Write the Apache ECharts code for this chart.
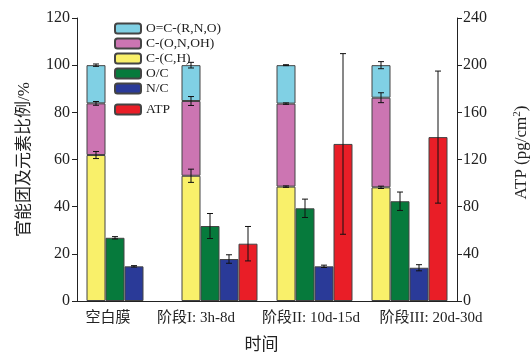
<!DOCTYPE html>
<html><head><meta charset="utf-8">
<script src="https://cdn.jsdelivr.net/npm/echarts@6/dist/echarts.min.js"></script>
<style>html,body{margin:0;padding:0;background:#fff}#c{width:530px;height:354px}</style>
</head><body><div id="c"></div>
<script>
const categories = ['空白膜', '阶段I: 3h-8d', '阶段II: 10d-15d', '阶段III: 20d-30d'];
// stacked functional-group segments (%)
const cch = [61.9, 53.1, 48.5, 48.2];
const cchErr = [1.5, 2.8, 0.3, 0.5];
const conoh = [21.9, 31.7, 35.2, 38.0];
const conohErr = [0.8, 1.9, 0.3, 2.1];
const ocrno = [16.2, 15.2, 16.3, 13.8];
const ocrnoErr = [0.5, 1.2, 0.2, 1.5];
// element ratios (%)
const oc = [26.8, 31.8, 39.3, 42.3];
const ocErr = [0.5, 5.3, 3.9, 3.9];
const nc = [14.7, 17.8, 14.7, 14.1];
const ncErr = [0.3, 1.8, 0.5, 1.3];
// ATP (pg/cm2)
const atp = [null, 48.6, 133.2, 139.0];
const atpErr = [null, 14.6, 76.6, 56.0];
const leftTicks = [0, 20, 40, 60, 80, 100, 120];
const rightTicks = [0, 40, 80, 120, 160, 200, 240];

const font = "'Liberation Serif','Noto Sans CJK SC',serif";
const txt = '#222';
const border = {borderColor: '#444', borderWidth: 1};

const errLeft = [];
const errRight = [];
categories.forEach((c, i) => {
  const t1 = cch[i], t2 = t1 + conoh[i], t3 = t2 + ocrno[i];
  errLeft.push([i, t1, cchErr[i], 0]);
  errLeft.push([i, t2, conohErr[i], 0]);
  errLeft.push([i, t3, ocrnoErr[i], 0]);
  errLeft.push([i, oc[i], ocErr[i], 1]);
  errLeft.push([i, nc[i], ncErr[i], 2]);
  if (atp[i] != null) errRight.push([i, atp[i], atpErr[i], 3]);
});

function renderErr(params, api) {
  const x = api.value(0), y = api.value(1), e = api.value(2), slot = api.value(3);
  const band = api.size([1, 0])[0];
  const bw = band * 0.8 / 4;
  const c = api.coord([x, y]);
  const cx = c[0] + (slot - 1.5) * bw;
  const hi = api.coord([x, y + e])[1];
  const lo = api.coord([x, y - e])[1];
  const cap = 3;
  const st = {stroke: '#111', lineWidth: 1};
  return {type: 'group', children: [
    {type: 'line', shape: {x1: cx, y1: hi, x2: cx, y2: lo}, style: st},
    {type: 'line', shape: {x1: cx - cap, y1: hi, x2: cx + cap, y2: hi}, style: st},
    {type: 'line', shape: {x1: cx - cap, y1: lo, x2: cx + cap, y2: lo}, style: st}
  ]};
}

const labelShift = [{padding: [0, 33, 0, 0]}, {padding: [0, 47, 0, 0]}, {padding: [0, 7, 0, 0]}, {padding: [0, 0, 0, 43]}];

const chart = echarts.init(document.getElementById('c'), null, {renderer: 'canvas'});
chart.setOption({
  backgroundColor: '#fff',
  animation: false,
  textStyle: {fontFamily: font, color: txt},
  grid: {left: 77, right: 73, top: 18, bottom: 53, containLabel: false, outerBoundsMode: 'none'},
  legend: [{
    data: ['O=C-(R,N,O)', 'C-(O,N,OH)', 'C-(C,H)', 'O/C', 'N/C'],
    orient: 'vertical', left: 109, top: 16, itemWidth: 26, itemHeight: 10, itemGap: 0,
    textStyle: {fontFamily: font, fontSize: 13.5, color: txt, lineHeight: 15}
  }, {
    data: ['ATP'], orient: 'vertical', left: 109, top: 97, itemWidth: 26, itemHeight: 10,
    textStyle: {fontFamily: font, fontSize: 13.5, color: txt, lineHeight: 15}
  }],
  xAxis: {
    type: 'category',
    data: categories.map((c, i) => ({value: c, textStyle: labelShift[i]})),
    name: '时间', nameLocation: 'middle', nameGap: 36,
    nameTextStyle: {fontFamily: font, fontSize: 17, color: txt, padding: [0, 11, 0, 0]},
    axisLine: {lineStyle: {color: '#222', width: 1}},
    axisTick: {show: false},
    axisLabel: {fontFamily: font, fontSize: 15, color: txt, margin: 10, interval: 0}
  },
  yAxis: [{
    type: 'value', min: leftTicks[0], max: leftTicks[leftTicks.length - 1], interval: 20,
    name: '官能团及元素比例/%', nameLocation: 'middle', nameGap: 44,
    nameTextStyle: {fontFamily: font, fontSize: 17, color: txt},
    axisLine: {show: true, lineStyle: {color: '#222', width: 1}},
    axisTick: {show: true, length: 5, lineStyle: {color: '#222'}},
    axisLabel: {fontFamily: font, fontSize: 16, color: txt, margin: 7},
    splitLine: {show: false}
  }, {
    type: 'value', min: rightTicks[0], max: rightTicks[rightTicks.length - 1], interval: 40,
    position: 'right',
    name: '{a|ATP (pg/cm}{s|2}{a|)}', nameLocation: 'middle', nameGap: 55,
    nameTextStyle: {padding: [0, 0, 0, 14], rich: {
      a: {fontFamily: font, fontSize: 17, color: txt},
      s: {fontFamily: font, fontSize: 11, color: txt, verticalAlign: 'top', padding: [0, 0, 8, 0]}
    }},
    axisLine: {show: true, lineStyle: {color: '#222', width: 1}},
    axisTick: {show: true, length: 5, lineStyle: {color: '#222'}},
    axisLabel: {fontFamily: font, fontSize: 16, color: txt, margin: 6},
    splitLine: {show: false}
  }],
  series: [
    {name: 'C-(C,H)', type: 'bar', stack: 'fg', data: cch, barGap: '0%', barCategoryGap: '20%',
      itemStyle: Object.assign({color: '#f9f06a'}, border)},
    {name: 'C-(O,N,OH)', type: 'bar', stack: 'fg', data: conoh,
      itemStyle: Object.assign({color: '#cc75b2'}, border)},
    {name: 'O=C-(R,N,O)', type: 'bar', stack: 'fg', data: ocrno,
      itemStyle: Object.assign({color: '#80d0e4'}, border)},
    {name: 'O/C', type: 'bar', data: oc, itemStyle: Object.assign({color: '#067a3c'}, border)},
    {name: 'N/C', type: 'bar', data: nc, itemStyle: Object.assign({color: '#2a3a98'}, border)},
    {name: 'ATP', type: 'bar', yAxisIndex: 1, data: atp, itemStyle: Object.assign({color: '#e91e27'}, border)},
    {name: 'errL', type: 'custom', renderItem: renderErr, data: errLeft, z: 10,
      encode: {x: 0, y: 1}, silent: true},
    {name: 'errR', type: 'custom', yAxisIndex: 1, renderItem: renderErr, data: errRight, z: 10,
      encode: {x: 0, y: 1}, silent: true}
  ]
});
</script></body></html>
